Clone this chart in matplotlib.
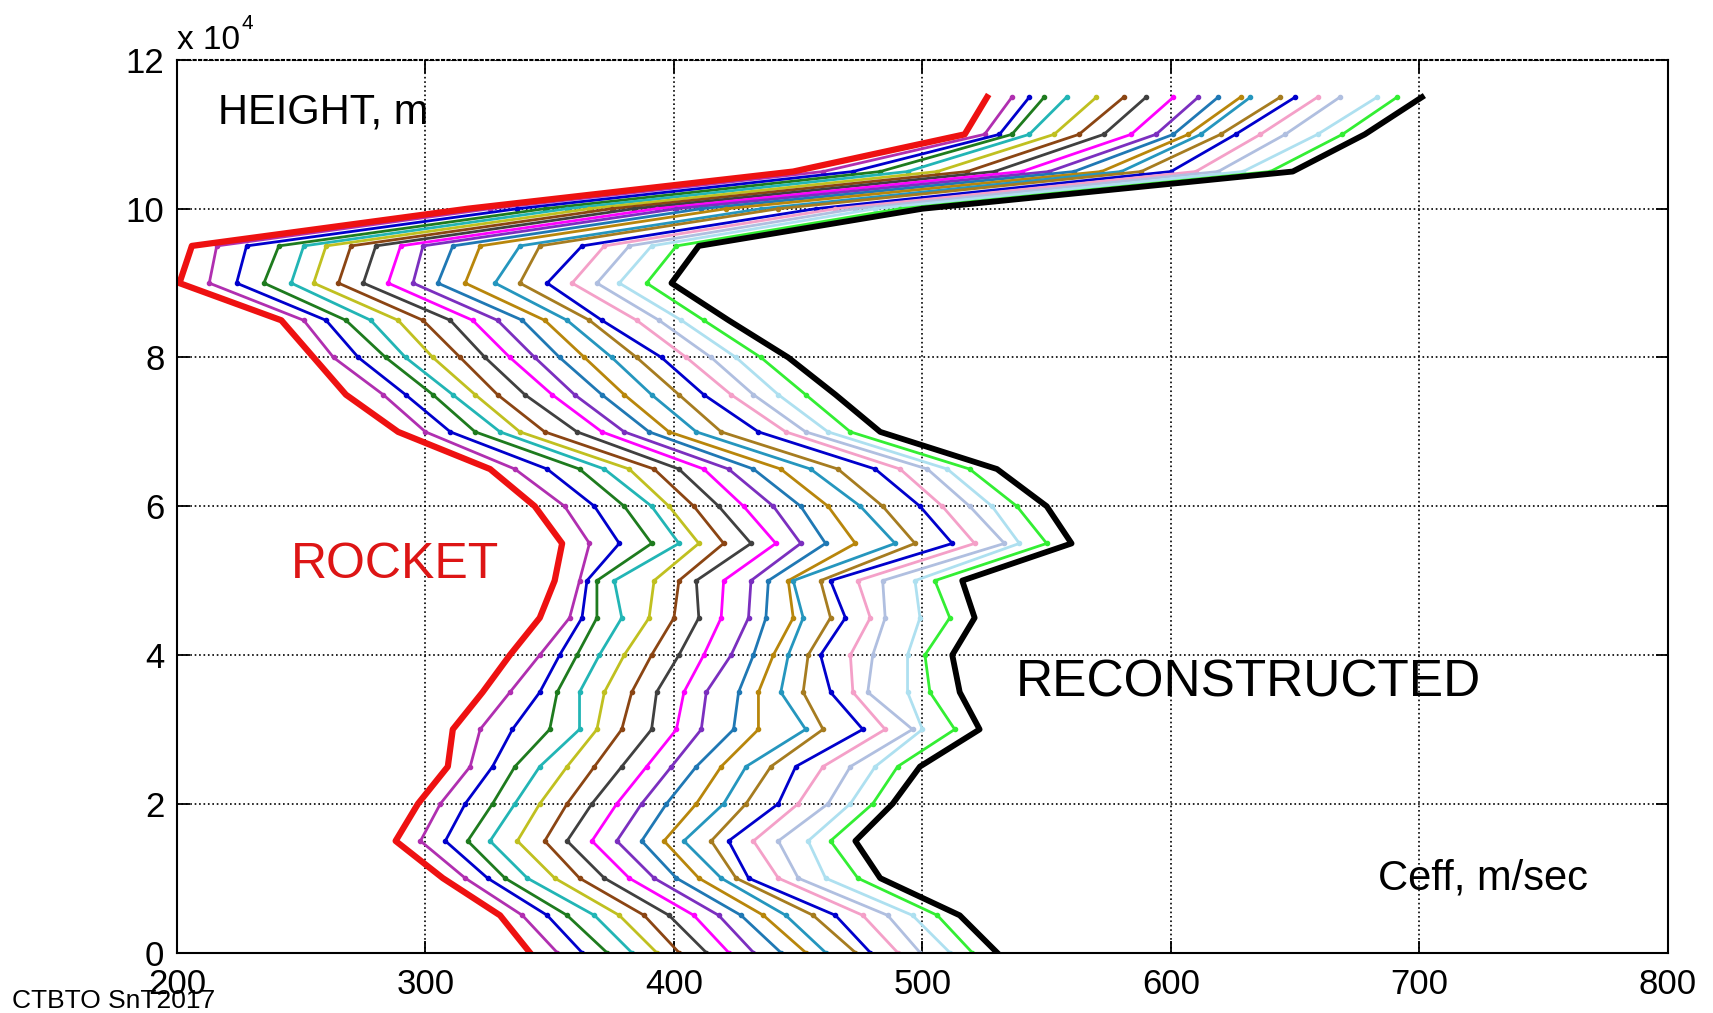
import matplotlib
matplotlib.use("Agg")
import matplotlib.pyplot as plt

plt.rcParams['font.family'] = ['Liberation Sans', 'DejaVu Sans']

# heights of the profile levels, m
height = [0, 5000, 10000, 15000, 20000, 25000, 30000, 35000, 40000, 45000,
          50000, 55000, 60000, 65000, 70000, 75000, 80000, 85000, 90000,
          95000, 100000, 105000, 110000, 115000]

# Ceff profiles, m/sec
rocket = [342, 330, 307, 288, 297, 309, 311, 323, 334, 346, 352, 355,
          344, 326, 289, 268, 255, 242, 201, 206, 317, 448, 517, 526]
reconstructed = [530, 515, 483, 473, 488, 499, 523, 515, 512, 521, 516, 560,
                 550, 530, 483, 465, 446, 422, 399, 410, 500, 649, 678, 701]

it01 = [353, 339, 316, 298, 306, 318, 322, 334, 346, 358, 362, 366,
        356, 336, 300, 283, 263, 251, 213, 216, 326, 460, 525, 536]
it02 = [363, 349, 325, 308, 316, 327, 335, 346, 354, 363, 365, 378,
        368, 349, 310, 292, 273, 260, 224, 228, 337, 472, 531, 543]
it03 = [373, 357, 332, 317, 327, 336, 350, 353, 361, 369, 369, 391,
        380, 362, 320, 303, 284, 268, 235, 241, 348, 483, 536, 549]
it04 = [383, 368, 341, 326, 336, 346, 362, 362, 370, 379, 376, 402,
        391, 372, 330, 311, 292, 278, 246, 251, 357, 494, 543, 558]
it05 = [393, 378, 352, 337, 346, 357, 369, 372, 380, 390, 392, 410,
        398, 382, 338, 320, 303, 289, 255, 260, 366, 506, 553, 570]
it06 = [402, 388, 362, 348, 357, 368, 379, 383, 391, 400, 402, 420,
        408, 392, 348, 329, 314, 299, 265, 270, 375, 518, 563, 581]
it07 = [413, 398, 372, 357, 367, 379, 391, 393, 402, 410, 409, 431,
        418, 402, 361, 340, 324, 310, 275, 280, 384, 529, 573, 590]
it08 = [422, 408, 382, 367, 377, 389, 401, 404, 412, 419, 420, 441,
        428, 412, 371, 351, 334, 319, 285, 290, 393, 540, 584, 601]
it09 = [432, 418, 392, 377, 387, 399, 411, 413, 423, 430, 431, 451,
        440, 422, 380, 360, 344, 329, 295, 299, 401, 551, 594, 611]
it10 = [443, 427, 401, 387, 397, 409, 424, 426, 432, 437, 438, 461,
        451, 432, 390, 371, 354, 339, 305, 311, 411, 561, 601, 619]
it11 = [453, 436, 410, 396, 409, 419, 434, 434, 440, 448, 446, 473,
        462, 443, 398, 380, 364, 348, 316, 322, 421, 572, 607, 628]
it12 = [461, 445, 419, 404, 420, 429, 453, 443, 446, 452, 448, 489,
        475, 455, 409, 391, 375, 357, 328, 338, 435, 580, 612, 632]
it13 = [473, 456, 425, 415, 429, 439, 460, 452, 454, 463, 459, 497,
        484, 466, 419, 402, 385, 366, 338, 346, 442, 588, 620, 644]
it14 = [479, 465, 430, 422, 442, 449, 476, 463, 459, 469, 463, 512,
        499, 481, 434, 412, 395, 371, 349, 363, 457, 600, 626, 650]
it15 = [490, 476, 442, 432, 450, 460, 485, 472, 471, 479, 474, 521,
        508, 491, 445, 423, 405, 385, 359, 372, 465, 610, 636, 659]
it16 = [499, 486, 450, 442, 462, 471, 496, 478, 480, 485, 484, 533,
        519, 502, 453, 432, 415, 394, 369, 382, 473, 619, 646, 668]
it17 = [511, 496, 461, 454, 471, 481, 500, 494, 494, 499, 497, 539,
        528, 510, 462, 442, 425, 403, 378, 391, 481, 629, 659, 683]
it18 = [520, 506, 474, 463, 480, 490, 513, 503, 501, 511, 505, 550,
        538, 519, 471, 453, 435, 412, 389, 401, 491, 640, 669, 691]

iterations = [it01, it02, it03, it04, it05, it06, it07, it08, it09,
              it10, it11, it12, it13, it14, it15, it16, it17, it18]
colors = ['#b02fb0', '#0000cc', '#1e7b1e', '#22b5b5', '#c0c020', '#8b4513',
          '#404040', '#ff00ff', '#7b2fbf', '#1f78b4', '#b8860b', '#2596be',
          '#a67c20', '#0000cc', '#f4a0c8', '#b0bfe0', '#aee0f0', '#33ee33']

fig = plt.figure(figsize=(17.13, 10.13), dpi=100)
ax = fig.add_axes([0.1033, 0.0597, 0.8704, 0.8811])

for prof, c in zip(iterations, colors):
    ax.plot(prof, height, color=c, lw=2.0, marker='.', ms=6)
ax.plot(reconstructed, height, color='black', lw=4.2)
ax.plot(rocket, height, color='#ee1111', lw=4.5)

ax.set_xlim(200, 800)
ax.set_ylim(0, 120000)
ax.set_xticks([200, 300, 400, 500, 600, 700, 800])
ax.set_yticks([0, 20000, 40000, 60000, 80000, 100000, 120000])
ax.set_yticklabels(['0', '2', '4', '6', '8', '10', '12'])
ax.tick_params(direction='in', length=9, width=1.3, labelsize=25,
               top=True, right=True)
ax.tick_params(axis='x', pad=11)
ax.tick_params(axis='y', pad=9)
ax.grid(True, color='black', linestyle=':', linewidth=1.2)
for s in ax.spines.values():
    s.set_linewidth(1.5)
ax.spines['top'].set_linestyle(':')

# multiplier above the y axis
ax.text(0.0, 1.004, 'x 10', transform=ax.transAxes, fontsize=24,
        ha='left', va='bottom')
ax.text(0.043, 1.03, '4', transform=ax.transAxes, fontsize=15,
        ha='left', va='bottom')

ax.text(216.5, 113000, 'HEIGHT, m', fontsize=30, va='center', ha='left')
ax.text(246, 52100, 'ROCKET', fontsize=36, color='#dd1515',
        va='center', ha='left')
ax.text(537.5, 36300, 'RECONSTRUCTED', fontsize=37, va='center', ha='left')
ax.text(683.5, 10000, 'Ceff, m/sec', fontsize=30, va='center', ha='left')

fig.text(0.007, 0.0, 'CTBTO SnT2017', fontsize=19, ha='left', va='bottom')

fig.savefig('out.png', dpi=100)
